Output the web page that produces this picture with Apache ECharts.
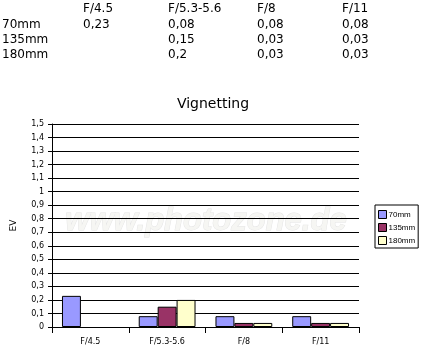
<!DOCTYPE html>
<html>
<head>
<meta charset="utf-8">
<script src="https://cdn.jsdelivr.net/npm/echarts@6/dist/echarts.min.js"></script>
<style>
html,body{margin:0;padding:0;background:#fff;}
#chart{width:427px;height:358px;}
</style>
</head>
<body>
<div id="chart"></div>
<script>
// ---- data ----
const categories = ['F/4.5', 'F/5.3-5.6', 'F/8', 'F/11'];
const seriesNames = ['70mm', '135mm', '180mm'];
const values70 = [0.23, 0.08, 0.08, 0.08];
const values135 = [null, 0.15, 0.03, 0.03];
const values180 = [null, 0.2, 0.03, 0.03];
const titleText = 'Vignetting';
const yAxisName = 'EV';
const watermarkText = 'www.photozone.de';

const allValues = [values70, values135, values180];
const colors = ['#9999FF', '#993366', '#FFFFCC'];
const FONT = 'DejaVu Sans';

function fmt(v) {
  return String(Number(v.toFixed(2))).replace('.', ',');
}

// ---- top table ----
const colX = [83, 168, 257, 342];
const rowY = [8.5, 24.5, 40, 54.5];
const tableEls = [];
categories.forEach((c, i) => {
  tableEls.push({type: 'text', x: colX[i], y: rowY[0],
    style: {text: c, fontFamily: FONT, fontSize: 12, fill: '#000', verticalAlign: 'middle', align: 'left'}});
});
seriesNames.forEach((s, r) => {
  tableEls.push({type: 'text', x: 2, y: rowY[r + 1],
    style: {text: s, fontFamily: FONT, fontSize: 12, fill: '#000', verticalAlign: 'middle', align: 'left'}});
  allValues[r].forEach((v, i) => {
    if (v === null) return;
    tableEls.push({type: 'text', x: colX[i], y: rowY[r + 1],
      style: {text: fmt(v), fontFamily: FONT, fontSize: 12, fill: '#000', verticalAlign: 'middle', align: 'left'}});
  });
});

const chart = echarts.init(document.getElementById('chart'), null, {renderer: 'canvas'});
chart.setOption({
  animation: false,
  backgroundColor: '#fff',
  graphic: [
    ...tableEls,
    {type: 'text', x: 213, y: 104, z: 10,
      style: {text: titleText, fontFamily: FONT, fontSize: 14, fill: '#000', align: 'center', verticalAlign: 'middle'}},
    {type: 'text', x: 206, y: 221, z: -100, silent: true,
      style: {text: watermarkText, fontFamily: 'Liberation Sans', fontSize: 31, fontWeight: 'bold', fontStyle: 'italic',
        fill: '#f6f6f3', stroke: '#e5e5e5', lineWidth: 1, align: 'center', verticalAlign: 'middle'}}
  ],
  legend: {
    orient: 'vertical',
    left: 375,
    top: 205,
    padding: [5, 3, 3, 3],
    itemWidth: 8,
    itemHeight: 8,
    itemGap: 4,
    borderColor: '#000',
    borderWidth: 1,
    borderRadius: 0,
    backgroundColor: '#fff',
    icon: 'rect',
    itemStyle: {borderColor: '#000', borderWidth: 1},
    textStyle: {fontFamily: 'Liberation Sans', fontSize: 8, color: '#000', padding: [0, 0, 0, -3]},
    data: seriesNames
  },
  grid: {left: 52, top: 124, width: 307, height: 203, containLabel: false},
  xAxis: {
    type: 'category',
    data: categories,
    boundaryGap: true,
    axisLine: {lineStyle: {color: '#000', width: 1}},
    axisTick: {show: true, length: 6, lineStyle: {color: '#000'}},
    axisLabel: {fontFamily: FONT, fontSize: 8, color: '#000', margin: 11, interval: 0},
    splitLine: {show: false}
  },
  yAxis: {
    type: 'value',
    min: 0,
    max: 1.5,
    interval: 0.1,
    name: yAxisName,
    nameLocation: 'middle',
    nameRotate: 90,
    nameGap: 34,
    nameTextStyle: {fontFamily: FONT, fontSize: 9, color: '#000'},
    axisLine: {show: true, lineStyle: {color: '#000', width: 1}},
    axisTick: {show: true, length: 4, lineStyle: {color: '#000'}},
    axisLabel: {fontFamily: FONT, fontSize: 8, color: '#000', margin: 8,
      formatter: v => String(Number(v.toFixed(1))).replace('.', ',')},
    splitLine: {show: true, lineStyle: {color: '#000', width: 1}}
  },
  series: seriesNames.map((name, i) => ({
    name: name,
    type: 'bar',
    data: allValues[i],
    barGap: '0%',
    barCategoryGap: '26%',
    itemStyle: {color: colors[i], borderColor: '#000', borderWidth: 1},
    emphasis: {disabled: true}
  }))
});
</script>
</body>
</html>
